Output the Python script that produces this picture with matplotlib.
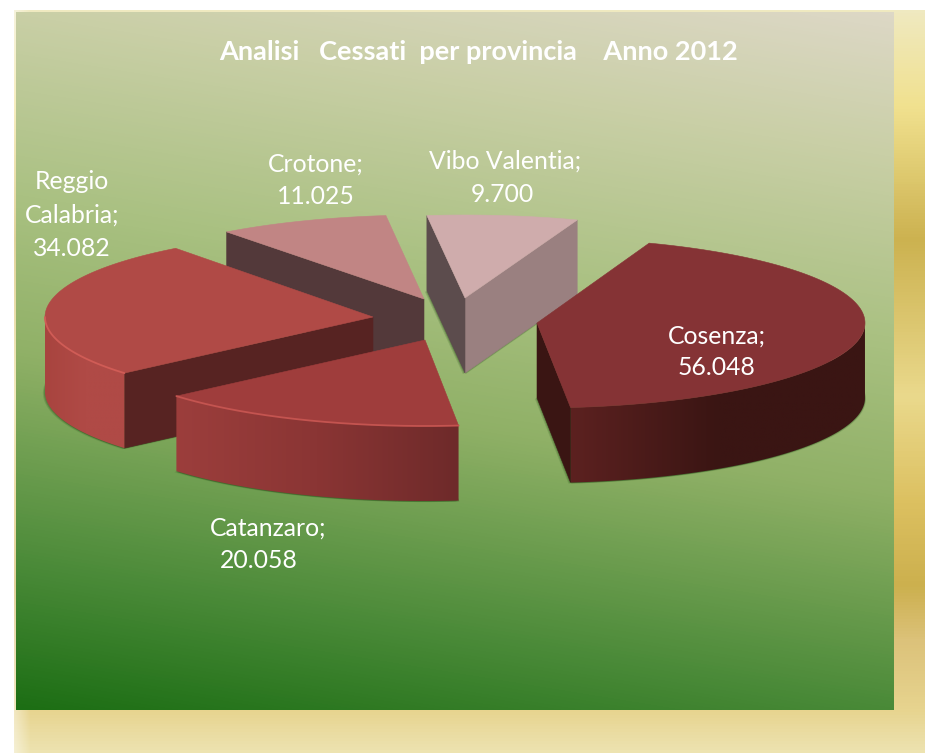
import numpy as np
import matplotlib
matplotlib.use("Agg")
import matplotlib.pyplot as plt
from matplotlib.colors import LinearSegmentedColormap as LSC
from matplotlib.patches import Polygon

# ---- data ----
categories = ["Cosenza", "Catanzaro", "Reggio Calabria", "Crotone", "Vibo Valentia"]
values = [56048, 20058, 34082, 11025, 9700]
title = "Analisi   Cessati  per provincia    Anno 2012"

# ---- layout / style ----
W, H = 925, 753
START = 70.0
RX = 328
apex_x = [537, 425, 373, 424, 465]
apex_y = [323, 340, 317, 299, 298]
ry = [85, 86, 86, 84, 83]
depth = [75, 75, 75, 72, 75]
top_col = ["#853335", "#9f3d3c", "#b04a46", "#c18584", "#cfacac"]
outer_grad = [["#5c2120", "#3a1513", "#3a1513"], ["#9c3e3c", "#8a3534", "#6e2a2a"],
              ["#a8443f", "#b04a46", "#b04a46"], ["#53393a"] * 3, ["#9a8080"] * 3]
cut_start = ["#3a1513", "#6e2a2a", "#a8443f", "#53393a", "#9a8080"]   # clockwise edge
cut_end = ["#3a1513", "#6e2a2a", "#572322", "#53393a", "#5c4c4d"]     # counter-clockwise edge
bevel = [None, "#c45450", "#d05c56", None, None]
draw_order = [3, 4, 2, 1, 0]
label_lines = [
    [(717, 336), (717, 367)],
    [(268, 528), (259, 560)],
    [(72, 181), (72, 215), (72, 248)],
    [(316, 164), (316, 196)],
    [(505, 161), (502, 194)],
]
FONT = ["Lato", "DejaVu Sans"]

fig = plt.figure(figsize=(W / 100, H / 100), dpi=100)
ax = fig.add_axes([0, 0, 1, 1])
ax.axis("off")


def grad_image(stops, n=256):
    return LSC.from_list("g", stops)(np.linspace(0, 1, n))


# outer golden frame
ys = np.arange(10, H)
stops = [(0.0, "#efe9c0"), (0.128, "#f1e18f"), (0.308, "#ccb250"), (0.52, "#ead98c"),
         (0.665, "#dcc060"), (0.776, "#ccb04e"), (0.85, "#dcc27a"), (0.944, "#e7d48f"), (1.0, "#ede3b0")]
frame = LSC.from_list("f", stops)(np.linspace(0, 1, len(ys)))[:, None, :3]
frame = np.repeat(frame, W - 14, axis=1)
fade = np.clip((np.arange(W - 14)) / 16.0, 0, 1)[None, :, None]
frame = frame * (0.55 + 0.45 * fade) + np.array([1, 1, 1])[None, None, :] * 0.45 * (1 - fade)
ax.imshow(frame, extent=(14, W, H, 10), aspect="auto", zorder=0, interpolation="bilinear")

# green panel gradient
px0, px1, py0, py1 = 16, 894, 12, 710
X, Y = np.meshgrid(np.linspace(0, 1, px1 - px0), np.linspace(1, 0, py1 - py0))
T = 0.83 * Y + 0.17 * X
pan = LSC.from_list("p", [(0, "#1c6e14"), (0.17, "#4a8a38"), (0.42, "#8fb066"),
                          (0.6, "#a8c080"), (0.83, "#c9cfa6"), (1, "#ddd8c6")])(T)
ax.imshow(pan, extent=(px0, px1, py1, py0), aspect="auto", zorder=1, interpolation="bilinear")


def gradient_poly(xy, colors, z):
    xy = np.asarray(xy)
    x0, x1 = xy[:, 0].min(), xy[:, 0].max()
    y0, y1 = xy[:, 1].min(), xy[:, 1].max()
    im = ax.imshow(grad_image(colors)[None, :, :], extent=(x0, x1, y1, y0), aspect="auto", zorder=z)
    p = Polygon(xy, closed=True, transform=ax.transData, fc="none", ec="none")
    ax.add_patch(p)
    im.set_clip_path(p)


def flat_poly(xy, color, z, alpha=1.0, lw=0.4):
    ax.add_patch(Polygon(xy, closed=True, fc=color, ec=color if alpha == 1 else "none",
                         lw=lw if alpha == 1 else 0, alpha=alpha, zorder=z))


total = sum(values)
angles = START - np.cumsum([0] + [v / total * 360 for v in values])

for rank, i in enumerate(draw_order):
    z = 2 + rank
    a2, a1 = angles[i], angles[i + 1]          # a2 > a1, clockwise from a2 to a1
    ax_, ay_, b, d = apex_x[i], apex_y[i], ry[i], depth[i]
    th = np.radians(np.linspace(a1, a2, 160))
    rimx, rimy = ax_ + RX * np.cos(th), ay_ - b * np.sin(th)
    top = np.column_stack([np.r_[ax_, rimx], np.r_[ay_, rimy]])

    # faint contact shadow of the whole extruded silhouette
    base = top + [0, d]
    for off, al in ((3.0, 0.16), (1.6, 0.26)):
        flat_poly(base + [-off * 0.7, off * 0.35], "#1f4a14", z, alpha=al)
        flat_poly(base + [off * 0.3, off * 0.35], "#1f4a14", z, alpha=al)

    # cut faces
    for ang, col, vis in ((a1, cut_start[i], np.cos(np.radians(a1)) > 0),
                          (a2, cut_end[i], np.cos(np.radians(a2)) < 0)):
        if vis:
            ex = ax_ + RX * np.cos(np.radians(ang))
            ey = ay_ - b * np.sin(np.radians(ang))
            flat_poly([(ax_, ay_), (ex, ey), (ex, ey + d), (ax_, ay_ + d)], col, z + 0.1)

    # outer rim (front-facing half only)
    mask = np.sin(th) < 0
    if mask.sum() > 1:
        xr, yr = rimx[mask], rimy[mask]
        gradient_poly(np.column_stack([np.r_[xr, xr[::-1]], np.r_[yr, yr[::-1] + d]]), outer_grad[i], z + 0.2)

    # top face
    flat_poly(top, top_col[i], z + 0.3)
    if bevel[i] and mask.sum() > 1:
        ax.plot(rimx[mask], rimy[mask], color=bevel[i], lw=1.3, zorder=z + 0.4, solid_capstyle="round")

ax.set_xlim(0, W)
ax.set_ylim(H, 0)

# texts
ax.text(479, 52, title, color="white", fontsize=19.5, fontweight="bold", family=FONT,
        ha="center", va="center", zorder=20)
for i, name in enumerate(categories):
    words = name.split(" ") if name == "Reggio Calabria" else [name]
    words[-1] += ";"
    lines = words + [f"{values[i]:,}".replace(",", ".")]
    for (x, y), s in zip(label_lines[i], lines):
        ax.text(x, y, s, color="white", fontsize=17.8, family=FONT, ha="center", va="center", zorder=20)

fig.savefig("out.png", dpi=100, facecolor="white")
